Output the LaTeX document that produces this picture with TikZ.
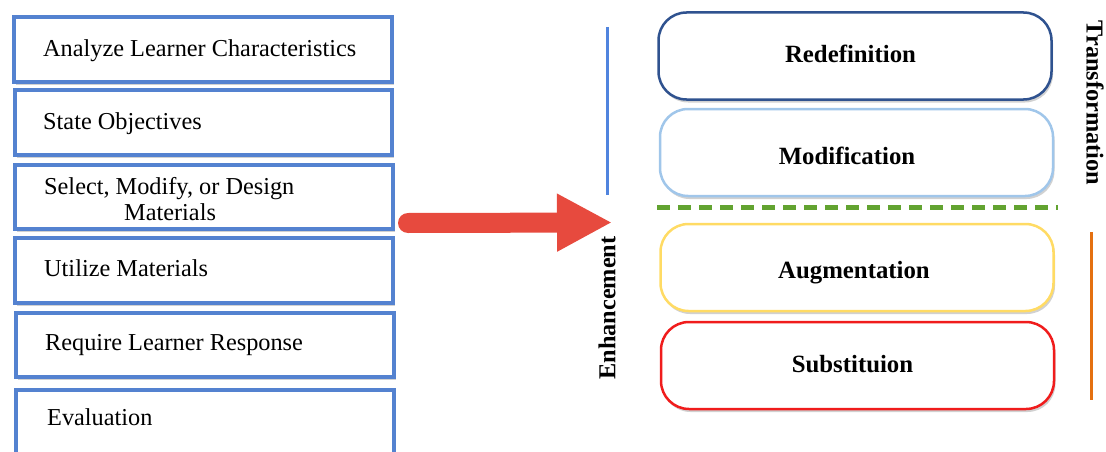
\documentclass[tikz,border=0pt]{standalone}
\usepackage{fontspec}
\setmainfont{Liberation Serif}
\usetikzlibrary{arrows.meta,shadows}

\definecolor{boxblue}{RGB}{84,130,208}
\definecolor{redefblue}{RGB}{47,82,143}
\definecolor{modblue}{RGB}{160,198,234}
\definecolor{augyellow}{RGB}{255,219,100}
\definecolor{subred}{RGB}{240,28,28}
\definecolor{dashgreen}{RGB}{98,163,48}
\definecolor{lineblue}{RGB}{80,132,222}
\definecolor{lineorange}{RGB}{228,112,16}
\definecolor{arrowred}{RGB}{231,74,62}

\begin{document}
\begin{tikzpicture}[x=1pt,y=-1pt,
  softshadow/.style={drop shadow={opacity=0.4, fill=black!45, shadow xshift=1.5pt, shadow yshift=-3pt}},
  stepbox/.style={draw=boxblue, line width=4pt, fill=white, inner sep=0pt, softshadow},
  levelbox/.style={rounded corners=28pt, line width=2.5pt, fill=white, inner sep=0pt,
    minimum width=393pt, minimum height=87pt, softshadow},
  steptext/.style={font=\fontsize{24.3}{27}\selectfont, inner sep=0pt, anchor=base west},
  leveltext/.style={font=\fontsize{24.8}{28}\selectfont\bfseries, inner sep=0pt, anchor=base},
  sidetext/.style={font=\fontsize{24.3}{28}\selectfont\bfseries, inner sep=0pt}
]
\useasboundingbox (0,0) rectangle (1106,452);
\clip (0,0) rectangle (1106,452);

% Instructional design steps (left column)
\node[stepbox, minimum width=378pt, minimum height=65pt] (b1) at (203,49.5) {};
\node[stepbox, minimum width=377pt, minimum height=65pt] (b2) at (203.5,122.5) {};
\node[stepbox, minimum width=378pt, minimum height=64pt] (b3) at (204,197) {};
\node[stepbox, minimum width=378pt, minimum height=65pt] (b4) at (204,270.5) {};
\node[stepbox, minimum width=378pt, minimum height=64pt] (b5) at (205,345) {};
\node[stepbox, minimum width=378pt, minimum height=90pt] (b6) at (205,435) {};

\node[steptext] (t1) at (43,57) {Analyze Learner Characteristics};
\node[steptext] (t2) at (43,129) {State Objectives};
\node[steptext] (t3a) at (44,194) {Select, Modify, or Design};
\node[steptext] (t3b) at (124,220.5) {Materials};
\node[steptext] (t4) at (44,276.5) {Utilize Materials};
\node[steptext] (t5) at (45,350) {Require Learner Response};
\node[steptext] (t6) at (47,425) {Evaluation};

% Arrow pointing to the SAMR levels
\coordinate (arrowstart) at (408,223);
\coordinate (arrowtip) at (612,222.5);
\draw[arrowred, line width=20pt, line cap=round,
  -{Triangle[length=55pt,width=54pt]}] (arrowstart) -- (arrowtip);

% SAMR levels (right column)
\node[levelbox, draw=redefblue] (r1) at (855,56) {};
\node[levelbox, draw=modblue] (r2) at (856.5,152.5) {};
\node[levelbox, draw=augyellow] (r3) at (857,267.5) {};
\node[levelbox, draw=subred] (r4) at (857.5,365.5) {};

\node[leveltext] (l1) at (850.5,63) {Redefinition};
\node[leveltext] (l2) at (847,164) {Modification};
\node[leveltext] (l3) at (854,278) {Augmentation};
\node[leveltext] (l4) at (852.5,372) {Substituion};

% Separator between transformation and enhancement
\draw[dashgreen, line width=5pt, dash pattern=on 13pt off 8pt] (657,207) -- (1058,207);

% Side bars and labels
\draw[lineblue, line width=3pt] (607,27) -- (607,195);
\draw[lineorange, line width=3pt] (1091,232) -- (1091,400);
\node[sidetext, rotate=-90] (trans) at (1095,103) {Transformation};
\node[sidetext, rotate=90] (enh) at (607,308) {Enhancement};
\end{tikzpicture}
\end{document}
